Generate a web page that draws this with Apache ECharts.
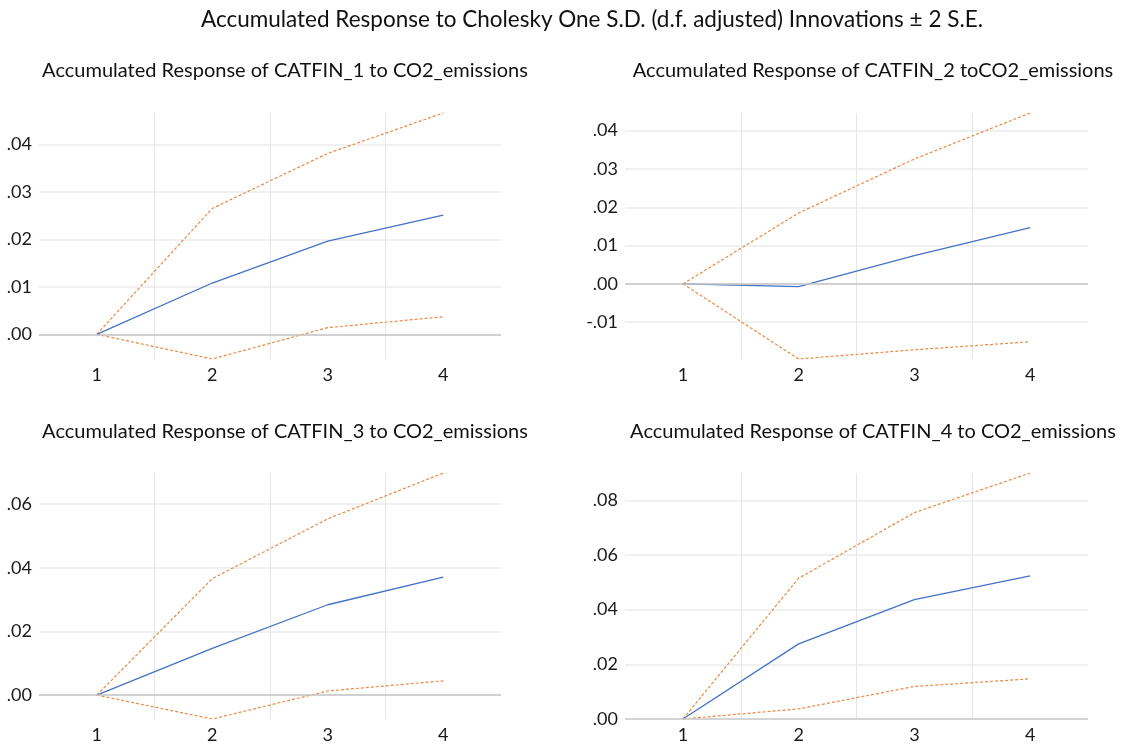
<!DOCTYPE html>
<html>
<head>
<meta charset="utf-8">
<script src="https://cdn.jsdelivr.net/npm/echarts@6/dist/echarts.min.js"></script>
<style>
  html, body { margin: 0; padding: 0; background: #fff; }
  #chart { width: 1130px; height: 744px; }
</style>
</head>
<body>
<div id="chart"></div>
<script>
  // periods
  var steps = ['1', '2', '3', '4'];

  // CATFIN_1
  var resp1 = [0, 0.0108, 0.0196, 0.0251];
  var upper1 = [0, 0.0265, 0.0381, 0.0466];
  var lower1 = [0, -0.0052, 0.0014, 0.0037];
  // CATFIN_2
  var resp2 = [0, -0.0007, 0.0074, 0.0147];
  var upper2 = [0, 0.0185, 0.0326, 0.0446];
  var lower2 = [0, -0.0196, -0.0172, -0.0151];
  // CATFIN_3
  var resp3 = [0, 0.0147, 0.0284, 0.0371];
  var upper3 = [0, 0.0366, 0.0554, 0.0698];
  var lower3 = [0, -0.0075, 0.0013, 0.0045];
  // CATFIN_4
  var resp4 = [0, 0.0275, 0.0437, 0.0524];
  var upper4 = [0, 0.0515, 0.0755, 0.0900];
  var lower4 = [0, 0.0037, 0.0119, 0.0147];

  var tickSteps = [0.01, 0.01, 0.02, 0.02];

  var mainTitle = 'Accumulated Response to Cholesky One S.D. (d.f. adjusted) Innovations \u00b1 2 S.E.';
  var subTitles = [
    'Accumulated Response of CATFIN_1 to CO2_emissions',
    'Accumulated Response of CATFIN_2 toCO2_emissions',
    'Accumulated Response of CATFIN_3 to CO2_emissions',
    'Accumulated Response of CATFIN_4 to CO2_emissions'
  ];

  var panels = [
    { resp: resp1, upper: upper1, lower: lower1 },
    { resp: resp2, upper: upper2, lower: lower2 },
    { resp: resp3, upper: upper3, lower: lower3 },
    { resp: resp4, upper: upper4, lower: lower4 }
  ];

  var FONT = 'Lato, "Open Sans", sans-serif';
  var grids = [
    { left: 39, top: 113, width: 462, height: 246 },
    { left: 625, top: 113, width: 463, height: 246 },
    { left: 39, top: 473, width: 462, height: 246 },
    { left: 625, top: 473, width: 463, height: 246 }
  ];
  var titlePos = [[285, 71], [873, 71], [285, 432], [873, 432]];

  // ".04", "-.01" style labels, only on the nice steps
  function fmt(step) {
    return function (v) {
      var k = v / step;
      if (Math.abs(k - Math.round(k)) > 1e-6) return '';
      var s = v.toFixed(2);
      return s.replace('0.', '.');
    };
  }

  var xAxes = [], yAxes = [], series = [], graphics = [];

  graphics.push({
    type: 'text', x: 592, y: 20,
    style: { text: mainTitle, font: '22.5px ' + FONT, fill: '#111', textAlign: 'center', textVerticalAlign: 'middle' }
  });

  panels.forEach(function (p, i) {
    var all = p.upper.concat(p.lower, p.resp);
    var lo = Math.min.apply(null, all), hi = Math.max.apply(null, all);

    graphics.push({
      type: 'text', x: titlePos[i][0], y: titlePos[i][1],
      style: { text: subTitles[i], font: '20px ' + FONT, fill: '#111', textAlign: 'center', textVerticalAlign: 'middle' }
    });

    xAxes.push({
      type: 'category', gridIndex: i, data: steps, boundaryGap: true,
      axisLine: { show: false }, axisTick: { show: false },
      axisLabel: { color: '#1a1a1a', fontSize: 18, fontFamily: FONT, margin: 7 },
      splitLine: { show: true, showMinLine: false, showMaxLine: false, interval: 0, lineStyle: { color: '#e6e6e6', width: 1 } }
    });
    yAxes.push({
      type: 'value', gridIndex: i, min: lo, max: hi,
      minInterval: tickSteps[i], maxInterval: tickSteps[i],
      axisLine: { show: false }, axisTick: { show: false },
      axisLabel: { color: '#1a1a1a', fontSize: 18, fontFamily: FONT, margin: 7, formatter: fmt(tickSteps[i]) },
      splitLine: { show: true, showMinLine: false, showMaxLine: false, lineStyle: { color: '#ebebeb', width: 1.5 } }
    });

    series.push({
      type: 'line', xAxisIndex: i, yAxisIndex: i, data: p.resp,
      symbol: 'none', lineStyle: { color: '#4472c4', width: 1.3 }, z: 4,
      markLine: {
        silent: true, symbol: 'none', label: { show: false },
        lineStyle: { color: '#c6c6c6', width: 1.5, type: 'solid' },
        data: [{ yAxis: 0 }]
      }
    });
    series.push({
      type: 'line', xAxisIndex: i, yAxisIndex: i, data: p.upper,
      symbol: 'none', lineStyle: { color: '#e98a45', width: 1.2, type: [3, 2] }, z: 3
    });
    series.push({
      type: 'line', xAxisIndex: i, yAxisIndex: i, data: p.lower,
      symbol: 'none', lineStyle: { color: '#e98a45', width: 1.2, type: [3, 2] }, z: 3
    });
  });

  var chart = echarts.init(document.getElementById('chart'));
  chart.setOption({
    animation: false,
    backgroundColor: '#fff',
    graphic: graphics,
    grid: grids,
    xAxis: xAxes,
    yAxis: yAxes,
    series: series
  });
</script>
</body>
</html>
